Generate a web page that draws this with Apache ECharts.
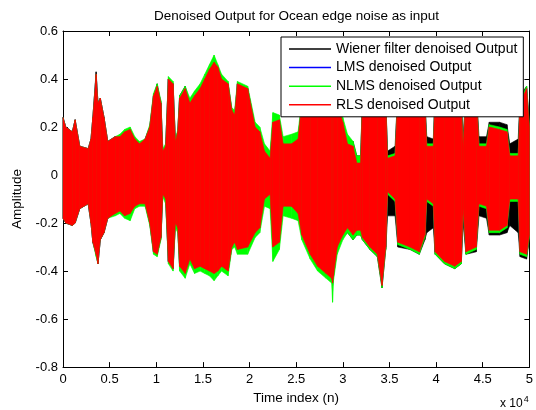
<!DOCTYPE html>
<html>
<head>
<meta charset="utf-8">
<script src="https://cdn.jsdelivr.net/npm/echarts@6/dist/echarts.min.js"></script>
<style>
  body { margin: 0; background: #fff; }
  #chart { width: 536px; height: 410px; }
</style>
</head>
<body>
<div id="chart"></div>
<script>
// envelope of each denoised output at these time indices
const sampleIdx = [0, 300, 1000, 1300, 1800, 2700, 3000, 3200, 3550, 3750,
  4000, 4400, 4800, 5600, 6100, 6600, 7200, 7700, 8200, 8800,
  9300, 9700, 10100, 10500, 10700, 11000, 11300, 11800, 12050, 12300,
  12500, 13100, 13600, 14100, 14700, 15200, 15700, 16200, 16600, 17000,
  17700, 18100, 18400, 18700, 19800, 20600, 21100, 21600, 22200, 22500,
  23200, 23600, 24500, 25200, 25600, 26500, 27300, 28200, 28800, 28900,
  29000, 29400, 30000, 30500, 31100, 31500, 31900, 32100, 32900, 33700,
  34200, 34600, 34800, 35600, 35900, 37200, 38200, 38800, 39000, 39700,
  39900, 40900, 42000, 42700, 42900, 43200, 44300, 44600, 45400, 45700,
  46800, 47600, 47900, 48800, 49000, 49700, 50000];

const rlsUpper = [0.24, 0.20, 0.18, 0.23, 0.12, 0.11, 0.15, 0.24, 0.42, 0.30,
  0.32, 0.24, 0.14, 0.16, 0.16, 0.18, 0.19, 0.15, 0.13, 0.15,
  0.20, 0.33, 0.37, 0.30, 0.10, 0.12, 0.40, 0.38, 0.14, 0.18,
  0.32, 0.36, 0.30, 0.33, 0.36, 0.40, 0.44, 0.47, 0.45, 0.40,
  0.38, 0.27, 0.25, 0.38, 0.36, 0.20, 0.18, 0.10, 0.07, 0.22,
  0.23, 0.13, 0.13, 0.15, 0.30, 0.35, 0.35, 0.35, 0.35, 0.35,
  0.35, 0.30, 0.22, 0.13, 0.12, 0.05, 0.05, 0.30, 0.35, 0.35,
  0.35, 0.30, 0.07, 0.08, 0.35, 0.35, 0.35, 0.30, 0.12, 0.12,
  0.35, 0.35, 0.35, 0.30, 0.12, 0.35, 0.35, 0.12, 0.12, 0.20,
  0.19, 0.18, 0.08, 0.08, 0.30, 0.36, 0.20];
const rlsLower = [-0.18, -0.20, -0.21, -0.20, -0.14, -0.12, -0.20, -0.28, -0.33, -0.37,
  -0.27, -0.24, -0.18, -0.16, -0.15, -0.17, -0.16, -0.13, -0.12, -0.12,
  -0.20, -0.32, -0.33, -0.26, -0.08, -0.10, -0.36, -0.39, -0.20, -0.22,
  -0.38, -0.41, -0.35, -0.39, -0.38, -0.39, -0.40, -0.41, -0.40, -0.38,
  -0.40, -0.30, -0.28, -0.31, -0.30, -0.24, -0.22, -0.10, -0.08, -0.30,
  -0.28, -0.13, -0.13, -0.16, -0.25, -0.33, -0.38, -0.41, -0.43, -0.45,
  -0.42, -0.30, -0.25, -0.22, -0.25, -0.23, -0.23, -0.26, -0.30, -0.33,
  -0.46, -0.30, -0.07, -0.10, -0.28, -0.30, -0.32, -0.25, -0.10, -0.12,
  -0.32, -0.36, -0.38, -0.36, -0.14, -0.32, -0.30, -0.12, -0.13, -0.23,
  -0.23, -0.21, -0.10, -0.10, -0.32, -0.33, -0.25];

const nlmsUpper = [0.24, 0.20, 0.18, 0.23, 0.12, 0.11, 0.15, 0.24, 0.42, 0.30,
  0.32, 0.24, 0.14, 0.16, 0.17, 0.19, 0.20, 0.16, 0.14, 0.15,
  0.21, 0.34, 0.38, 0.31, 0.11, 0.13, 0.41, 0.39, 0.15, 0.19,
  0.33, 0.37, 0.32, 0.35, 0.38, 0.42, 0.46, 0.50, 0.46, 0.42,
  0.39, 0.28, 0.27, 0.39, 0.37, 0.22, 0.20, 0.13, 0.10, 0.26,
  0.25, 0.16, 0.17, 0.18, 0.31, 0.36, 0.36, 0.36, 0.36, 0.36,
  0.36, 0.31, 0.24, 0.17, 0.14, 0.08, 0.08, 0.31, 0.36, 0.36,
  0.36, 0.31, 0.08, 0.09, 0.36, 0.36, 0.36, 0.31, 0.13, 0.13,
  0.36, 0.36, 0.36, 0.31, 0.13, 0.36, 0.36, 0.13, 0.13, 0.21,
  0.20, 0.19, 0.09, 0.09, 0.31, 0.37, 0.21];
const nlmsLower = [-0.18, -0.20, -0.21, -0.20, -0.14, -0.12, -0.20, -0.28, -0.34, -0.37,
  -0.27, -0.24, -0.18, -0.17, -0.16, -0.18, -0.19, -0.14, -0.13, -0.13,
  -0.21, -0.33, -0.34, -0.27, -0.09, -0.12, -0.37, -0.40, -0.22, -0.24,
  -0.40, -0.43, -0.37, -0.41, -0.40, -0.41, -0.42, -0.44, -0.42, -0.40,
  -0.42, -0.31, -0.30, -0.33, -0.33, -0.26, -0.24, -0.13, -0.14, -0.36,
  -0.31, -0.17, -0.18, -0.19, -0.27, -0.35, -0.40, -0.43, -0.45, -0.53,
  -0.44, -0.33, -0.27, -0.24, -0.27, -0.25, -0.25, -0.27, -0.31, -0.34,
  -0.47, -0.31, -0.08, -0.11, -0.29, -0.31, -0.33, -0.26, -0.11, -0.13,
  -0.33, -0.37, -0.39, -0.37, -0.15, -0.33, -0.31, -0.13, -0.14, -0.24,
  -0.24, -0.22, -0.11, -0.11, -0.33, -0.34, -0.26];

const wienerUpper = [0.24, 0.20, 0.18, 0.23, 0.12, 0.11, 0.15, 0.24, 0.43, 0.30,
  0.32, 0.24, 0.14, 0.16, 0.16, 0.18, 0.19, 0.15, 0.13, 0.15,
  0.20, 0.33, 0.38, 0.30, 0.10, 0.12, 0.40, 0.38, 0.14, 0.18,
  0.33, 0.37, 0.30, 0.33, 0.36, 0.40, 0.44, 0.48, 0.45, 0.41,
  0.38, 0.27, 0.25, 0.38, 0.36, 0.20, 0.18, 0.10, 0.07, 0.22,
  0.23, 0.13, 0.13, 0.15, 0.30, 0.35, 0.35, 0.35, 0.35, 0.35,
  0.35, 0.30, 0.22, 0.14, 0.14, 0.08, 0.08, 0.30, 0.35, 0.35,
  0.35, 0.31, 0.10, 0.12, 0.35, 0.35, 0.35, 0.31, 0.16, 0.15,
  0.35, 0.35, 0.35, 0.31, 0.16, 0.35, 0.35, 0.16, 0.16, 0.22,
  0.22, 0.21, 0.13, 0.15, 0.33, 0.37, 0.22];
const wienerLower = [-0.18, -0.20, -0.21, -0.20, -0.14, -0.12, -0.20, -0.28, -0.33, -0.37,
  -0.27, -0.24, -0.18, -0.16, -0.15, -0.17, -0.16, -0.13, -0.12, -0.12,
  -0.20, -0.32, -0.33, -0.26, -0.08, -0.10, -0.36, -0.39, -0.20, -0.22,
  -0.38, -0.41, -0.35, -0.39, -0.38, -0.39, -0.40, -0.41, -0.40, -0.38,
  -0.40, -0.30, -0.28, -0.31, -0.30, -0.24, -0.22, -0.10, -0.08, -0.30,
  -0.28, -0.13, -0.13, -0.16, -0.25, -0.33, -0.38, -0.42, -0.43, -0.46,
  -0.42, -0.31, -0.26, -0.24, -0.27, -0.25, -0.25, -0.27, -0.31, -0.34,
  -0.47, -0.31, -0.17, -0.17, -0.30, -0.31, -0.33, -0.27, -0.24, -0.22,
  -0.33, -0.37, -0.39, -0.37, -0.20, -0.33, -0.32, -0.17, -0.18, -0.25,
  -0.25, -0.24, -0.21, -0.24, -0.34, -0.35, -0.27];

const seriesNames = ['Wiener filter denoised Output', 'LMS denoised Output',
  'NLMS denoised Output', 'RLS denoised Output'];
const seriesColors = ['#000000', '#0000ff', '#00ff00', '#ff0000'];

const FONT = '"Liberation Sans", Arial, Helvetica, sans-serif';

// filled band between lower and upper envelope, one quad per pair of neighbouring samples
function envelope(name, color, upper, lower) {
  return {
    name: name,
    type: 'custom',
    silent: true,
    itemStyle: { color: color },
    encode: { x: 0, y: [1, 2] },
    data: sampleIdx.map((n, i) => [n, lower[i], upper[i]]),
    renderItem: function (params, api) {
      const i = params.dataIndexInside;
      if (i >= params.dataInsideLength - 1) return null;
      const x0 = api.value(0, i), x1 = api.value(0, i + 1);
      const pts = [
        api.coord([x0, api.value(2, i)]),
        api.coord([x1, api.value(2, i + 1)]),
        api.coord([x1, api.value(1, i + 1)]),
        api.coord([x0, api.value(1, i)])
      ];
      return {
        type: 'polygon',
        shape: { points: pts },
        style: { fill: color, stroke: color, lineWidth: 0.6 }
      };
    }
  };
}

const chart = echarts.init(document.getElementById('chart'), null, { renderer: 'canvas' });

const axisCommon = {
  axisLine: { show: true, onZero: false, lineStyle: { color: '#000', width: 1 } },
  axisTick: { show: true, inside: true, length: 5, lineStyle: { color: '#000' } },
  splitLine: { show: false }
};

const option = {
  animation: false,
  backgroundColor: '#fff',
  textStyle: { fontFamily: FONT },
  grid: { left: 63, right: 6, top: 31, bottom: 41, containLabel: false },
  xAxis: [
    Object.assign({
      type: 'value', position: 'bottom', min: 0, max: 50000, interval: 5000,
      name: 'Time index (n)', nameLocation: 'middle', nameGap: 20,
      nameTextStyle: { fontSize: 13.5, color: '#000', fontFamily: FONT },
      axisLabel: {
        fontSize: 13, color: '#000', margin: 6, fontFamily: FONT,
        formatter: v => String(+(v / 10000).toFixed(1))
      }
    }, axisCommon),
    Object.assign({
      type: 'value', position: 'top', min: 0, max: 50000, interval: 5000,
      axisLabel: { show: false }
    }, axisCommon)
  ],
  yAxis: [
    Object.assign({
      type: 'value', position: 'left', min: -0.8, max: 0.6, interval: 0.2,
      name: 'Amplitude', nameLocation: 'middle', nameGap: 37,
      nameTextStyle: { fontSize: 13.5, color: '#000', fontFamily: FONT },
      axisLabel: {
        fontSize: 13, color: '#000', margin: 5, fontFamily: FONT,
        formatter: v => String(+v.toFixed(1))
      }
    }, axisCommon),
    Object.assign({
      type: 'value', position: 'right', min: -0.8, max: 0.6, interval: 0.2,
      axisLabel: { show: false }
    }, axisCommon)
  ],
  legend: {
    orient: 'vertical',
    left: 281,
    top: 37,
    selectedMode: false,
    backgroundColor: '#fff',
    borderColor: '#000',
    borderWidth: 1,
    borderRadius: 0,
    padding: [4, 6, 4, 8],
    itemGap: 2.6,
    itemWidth: 42,
    itemHeight: 1.5,
    icon: 'rect',
    textStyle: { fontSize: 14, color: '#000', fontFamily: FONT, lineHeight: 16 },
    data: seriesNames.map((name, i) => ({
      name: name,
      itemStyle: { color: seriesColors[i], borderWidth: 0 }
    }))
  },
  graphic: [
    {
      type: 'text', x: 296.5, y: 16,
      style: {
        text: 'Denoised Output for Ocean edge noise as input',
        font: '13.5px ' + FONT, fill: '#000',
        textAlign: 'center', textVerticalAlign: 'middle'
      }
    },
    {
      type: 'text', x: 500, y: 404,
      style: {
        text: 'x 10{sup|4}',
        font: '12px ' + FONT, fill: '#000',
        textVerticalAlign: 'middle',
        rich: { sup: { fontSize: 9, fontFamily: FONT, verticalAlign: 'bottom', padding: [0, 0, 9, 1] } }
      }
    }
  ],
  series: [
    envelope(seriesNames[0], seriesColors[0], wienerUpper, wienerLower),
    // LMS output is fully covered by the NLMS and RLS traces in the figure
    envelope(seriesNames[1], seriesColors[1], rlsUpper, rlsLower),
    envelope(seriesNames[2], seriesColors[2], nlmsUpper, nlmsLower),
    envelope(seriesNames[3], seriesColors[3], rlsUpper, rlsLower)
  ]
};

chart.setOption(option);
</script>
</body>
</html>
